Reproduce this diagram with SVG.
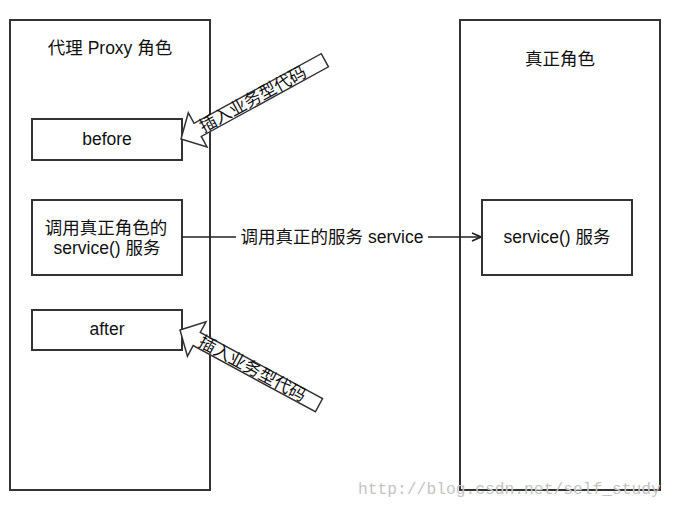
<svg xmlns="http://www.w3.org/2000/svg" width="680" height="510" viewBox="0 0 680 510">
<defs>
<style>
.box{fill:#fff;stroke:#333;stroke-width:2}
.t{font-family:"Liberation Sans","Noto Sans CJK SC",sans-serif;font-size:17.5px;fill:#111;text-anchor:middle;dominant-baseline:central}
.ba{fill:#fff;stroke:#333;stroke-width:1.5;stroke-linejoin:miter}
.bt{font-family:"Liberation Sans","Noto Sans CJK SC",sans-serif;font-size:17px;fill:#111;text-anchor:middle;dominant-baseline:central}
.wm{font-family:"Liberation Mono",monospace;font-size:16.3px;fill:#c4c4c4}
</style>
<marker id="open" viewBox="0 0 10 10" refX="10" refY="5" markerWidth="10" markerHeight="10" markerUnits="userSpaceOnUse" orient="auto">
<path d="M1,1 L10,5 L1,9" fill="none" stroke="#222" stroke-width="1.6"/>
</marker>
</defs>
<rect width="680" height="510" fill="#fff"/>
<g id="proxy">
<rect class="box" x="10" y="20" width="200" height="470"/>
<text class="t" x="110" y="48">代理 Proxy 角色</text>
</g>
<g id="real">
<rect class="box" x="460" y="20" width="200" height="470"/>
<text class="t" x="560" y="59">真正角色</text>
</g>
<g id="before">
<rect class="box" x="32" y="119" width="150" height="41"/>
<text class="t" x="107" y="139">before</text>
</g>
<g id="call">
<rect class="box" x="32" y="200" width="150" height="75"/>
<text class="t" x="106" y="228">调用真正角色的</text>
<text class="t" x="107" y="248">service() 服务</text>
</g>
<g id="after">
<rect class="box" x="32" y="310" width="150" height="40"/>
<text class="t" x="107" y="329">after</text>
</g>
<g id="service">
<rect class="box" x="482" y="200" width="150" height="75"/>
<text class="t" x="557" y="237">service() 服务</text>
</g>
<g id="insert-before" transform="translate(181,139) rotate(-28.7)">
<path class="ba" d="M0,0 L19,-19.5 L19,-7.5 L164,-7.5 L164,7.5 L19,7.5 L19,19.5 Z"/>
<text class="bt" x="82" y="0">插入业务型代码</text>
</g>
<g id="insert-after" transform="translate(180,330) rotate(28.4)">
<path class="ba" d="M0,0 L19,-19.5 L19,-7.5 L158,-7.5 L158,7.5 L19,7.5 L19,19.5 Z"/>
<text class="bt" x="82" y="0">插入业务型代码</text>
</g>
<g id="connectors">
<line x1="182" y1="237" x2="481" y2="237" stroke="#222" stroke-width="1.6" marker-end="url(#open)"/>
<rect x="236" y="226" width="192" height="22" fill="#fff"/>
<text class="t" x="332" y="237">调用真正的服务 service</text>
</g>
<text class="wm" x="358" y="494">http://blog.csdn.net/self_study</text>
</svg>
